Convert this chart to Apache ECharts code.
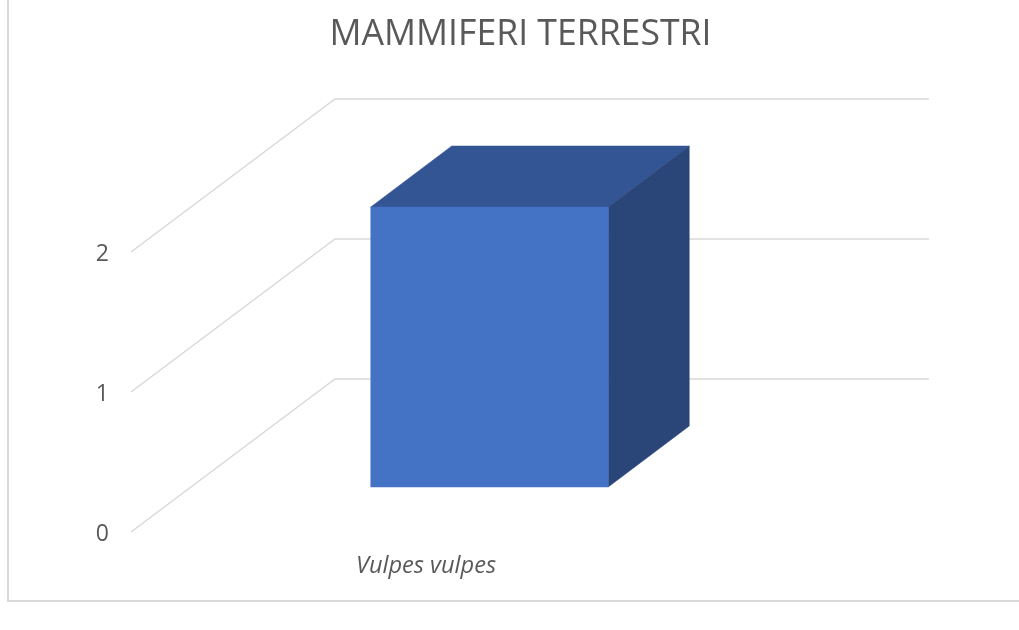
<!DOCTYPE html>
<html>
<head>
<meta charset="utf-8">
<title>MAMMIFERI TERRESTRI</title>
<script src="https://cdn.jsdelivr.net/npm/echarts@6/dist/echarts.min.js"></script>
<style>
  html, body { margin: 0; padding: 0; background: #fff; }
  #chart { width: 1019px; height: 630px; }
</style>
</head>
<body>
<div id="chart"></div>
<script>
const categories = ["Vulpes vulpes"];
const values = [2];
const yTicks = [0, 1, 2];

// fake 3d: how far the back wall and the box sit from the front plane, in px
const wallDx = 204;
const wallDy = -153;
const wallRight = 929;
const boxDx = 61.5;
const boxDy = -45;
const boxDepthX = 81;
const boxDepthY = -61;
const boxWidth = 237.5;

const chart = echarts.init(document.getElementById("chart"), null, { renderer: "canvas" });

function renderWall(params, api) {
	const band = api.size([1, 0])[0];
	const p = api.coord([0, api.value(0)]);
	const x0 = p[0] - band / 2;
	return {
		type: "polyline",
		shape: {
			points: [
				[x0, p[1]],
				[x0 + wallDx, p[1] + wallDy],
				[wallRight, p[1] + wallDy],
			],
		},
		style: { stroke: "#d9d9d9", lineWidth: 1.5, fill: null },
		silent: true,
	};
}

function renderBox(params, api) {
	const base = api.coord([api.value(0), 0]);
	const top = api.coord([api.value(0), api.value(1)]);
	const l = base[0] + boxDx - boxWidth / 2;
	const r = l + boxWidth;
	const b = base[1] + boxDy;
	const t = top[1] + boxDy;
	// thin stroke in the face colour hides the seam between faces
	const poly = (points, fill) => ({
		type: "polygon",
		shape: { points: points },
		style: { fill: fill, stroke: fill, lineWidth: 0.5 },
	});
	return {
		type: "group",
		children: [
			poly(
				[
					[l, t],
					[l + boxDepthX, t + boxDepthY],
					[r + boxDepthX, t + boxDepthY],
					[r, t],
				],
				"#335593",
			),
			poly(
				[
					[r, t],
					[r + boxDepthX, t + boxDepthY],
					[r + boxDepthX, b + boxDepthY],
					[r, b],
				],
				"#2a4679",
			),
			poly(
				[
					[l, t],
					[r, t],
					[r, b],
					[l, b],
				],
				"#4472c4",
			),
		],
	};
}

chart.setOption({
	animation: false,
	backgroundColor: "#ffffff",
	textStyle: { fontFamily: "Open Sans" },
	title: {
		text: "MAMMIFERI TERRESTRI",
		left: 515.5,
		top: 12,
		textAlign: "center",
		textStyle: { color: "#595959", fontSize: 35.6, fontWeight: "normal", fontFamily: "Open Sans" },
	},
	graphic: [
		{
			// chart frame, only left and bottom edges are visible
			type: "polyline",
			silent: true,
			shape: { points: [[8, 0], [8, 601], [1019, 601]] },
			style: { stroke: "#d9d9d9", lineWidth: 2, fill: null },
		},
	],
	grid: { left: 131, top: 252, width: 594, height: 280 },
	xAxis: {
		type: "category",
		data: categories,
		axisLine: { show: false },
		axisTick: { show: false },
		axisLabel: {
			margin: 22,
			padding: [0, 4, 0, 0],
			color: "#595959",
			fontSize: 23.6,
			fontStyle: "italic",
			fontFamily: "Open Sans",
		},
	},
	yAxis: {
		type: "value",
		min: 0,
		max: 2,
		interval: 1,
		axisLine: { show: false },
		axisTick: { show: false },
		splitLine: { show: false },
		axisLabel: {
			margin: 22,
			padding: [0, 0, 0, 0],
			lineHeight: 27,
			verticalAlign: "middle",
			color: "#595959",
			fontSize: 23,
			fontFamily: "Open Sans",
			formatter: (v) => "{d|" + v + "}",
			rich: { d: { padding: [4, 0, 0, 0], fontSize: 23, color: "#595959", fontFamily: "Open Sans" } },
		},
	},
	series: [
		{
			name: "wall",
			type: "custom",
			renderItem: renderWall,
			encode: { y: 0 },
			data: yTicks.map((v) => [v]),
			silent: true,
			clip: false,
			z: 1,
		},
		{
			name: "Vulpes vulpes",
			type: "custom",
			renderItem: renderBox,
			encode: { x: 0, y: 1 },
			data: values.map((v, i) => [i, v]),
			clip: false,
			z: 2,
		},
	],
});

window.addEventListener("resize", () => chart.resize());
</script>
</body>
</html>
